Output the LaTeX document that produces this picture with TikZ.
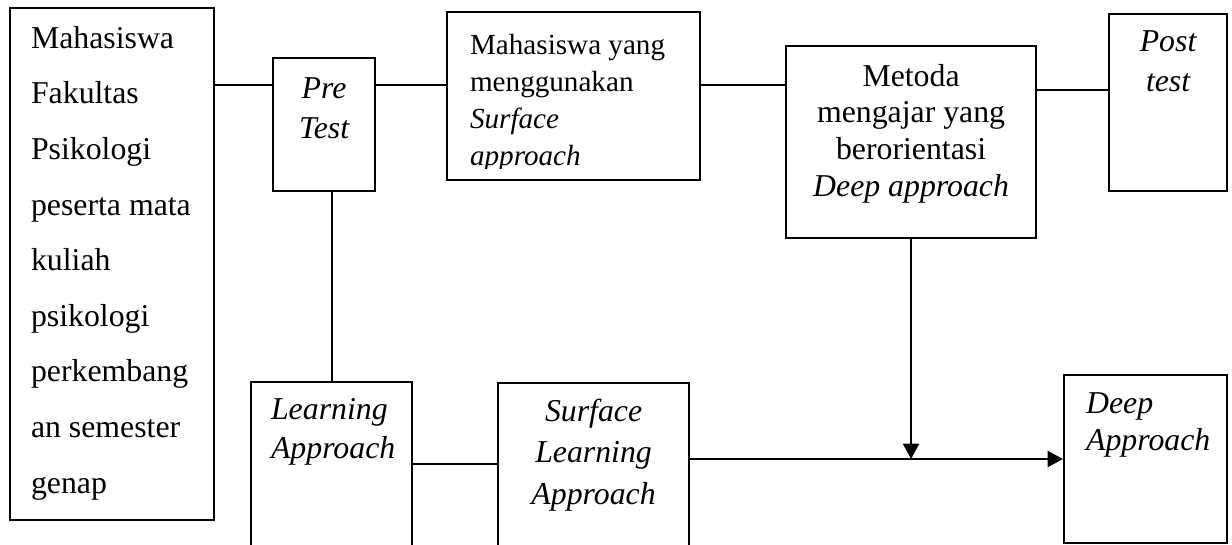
\documentclass[tikz,border=0pt]{standalone}
\usepackage{fontspec}
\setmainfont{Liberation Serif}
\usepackage{tikz}
\usetikzlibrary{arrows.meta}
\newlength{\satuan}
\setlength{\satuan}{0.3774pt}
\tikzstyle{kotak} = [draw=black, line width=0.8pt, rectangle, inner sep=0pt, anchor=north west]
\tikzstyle{garis} = [draw=black, line width=0.8pt]
\tikzstyle{panah} = [draw=black, line width=1pt, -{Triangle[length=5.8pt, width=6pt]}]

\begin{document}
\begin{tikzpicture}[x=0.3774pt, y=-0.3774pt]
\clip (0,0) rectangle (1232,544);
\node [kotak] (mhs) at (9,7) {%
    \parbox[t][512\satuan][t]{204\satuan}{\fontsize{12pt}{21pt}\selectfont\leftskip=21\satuan
        \rule{0pt}{40\satuan}Mahasiswa\\ Fakultas\\ Psikologi\\ peserta mata\\ kuliah\\
        psikologi\\ perkembang\\ an semester\\ genap}
};
\node [kotak] (pre) at (272,57) {%
    \parbox[t][133\satuan][t]{102\satuan}{\centering\itshape\fontsize{12pt}{15.1pt}\selectfont
        \rule{0pt}{40\satuan}Pre\\ Test}
};
\begin{scope}
\clip (447,12) rectangle (698,168);
\node [kotak, draw=none] (mhsyang) at (447,12) {%
    \parbox[t][166\satuan][t]{251\satuan}{\fontsize{11pt}{14pt}\selectfont\leftskip=22\satuan
        \rule{0pt}{41\satuan}Mahasiswa yang\\ menggunakan\\ \textit{Surface}\\ \textit{approach}}
};
\end{scope}
\draw [garis] (mhsyang.north west) rectangle (mhsyang.south east);
\node [kotak] (metoda) at (785,45) {%
    \parbox[t][192\satuan][t]{250\satuan}{\centering\fontsize{12pt}{13.85pt}\selectfont
        \rule{0pt}{40\satuan}Metoda\\ mengajar yang\\ berorientasi\\ \textit{Deep approach}}
};
\node [kotak] (post) at (1108,13) {%
    \parbox[t][177\satuan][t]{118\satuan}{\centering\itshape\fontsize{12pt}{15.1pt}\selectfont
        \rule{0pt}{37\satuan}Post\\ test}
};
\node [kotak] (learn) at (250,381) {%
    \parbox[t][200\satuan][t]{161\satuan}{\itshape\fontsize{12pt}{14.7pt}\selectfont\leftskip=20\satuan
        \rule{0pt}{37\satuan}Learning\\ Approach}
};
\node [kotak] (surface) at (497,382) {%
    \parbox[t][200\satuan][t]{191\satuan}{\centering\itshape\fontsize{12pt}{15.7pt}\selectfont
        \rule{0pt}{38\satuan}Surface\\ Learning\\ Approach}
};
\node [kotak] (deep) at (1063,374) {%
    \parbox[t][168\satuan][t]{163\satuan}{\itshape\fontsize{12pt}{14.3pt}\selectfont\leftskip=22\satuan
        \rule{0pt}{38\satuan}Deep\\ Approach}
};

\coordinate (k1) at ([yshift=-28\satuan]pre.north west);
\coordinate (k2) at ([yshift=-28\satuan]pre.north east);
\coordinate (k3) at ([yshift=-40\satuan]metoda.north west);
\coordinate (k4) at ([yshift=-77\satuan]post.north west);
\coordinate (k5) at ([yshift=-83\satuan]learn.north east);
\coordinate (temu) at ([yshift=-85\satuan]deep.north west);
\draw [garis] (k1 -| mhs.east) -- (k1);
\draw [garis] (k2) -- (k2 -| mhsyang.west);
\draw [garis] (k3 -| mhsyang.east) -- (k3);
\draw [garis] (k4 -| metoda.east) -- (k4);
\draw [garis] ([xshift=0.5\satuan]pre.south -| learn.north) -- ([xshift=0.5\satuan]learn.north);
\draw [garis] (k5) -- (k5 -| surface.west);
\draw [panah] (temu -| surface.east) -- (temu);
\draw [panah] (metoda.south) -- (metoda.south |- temu);
\end{tikzpicture}
\end{document}
